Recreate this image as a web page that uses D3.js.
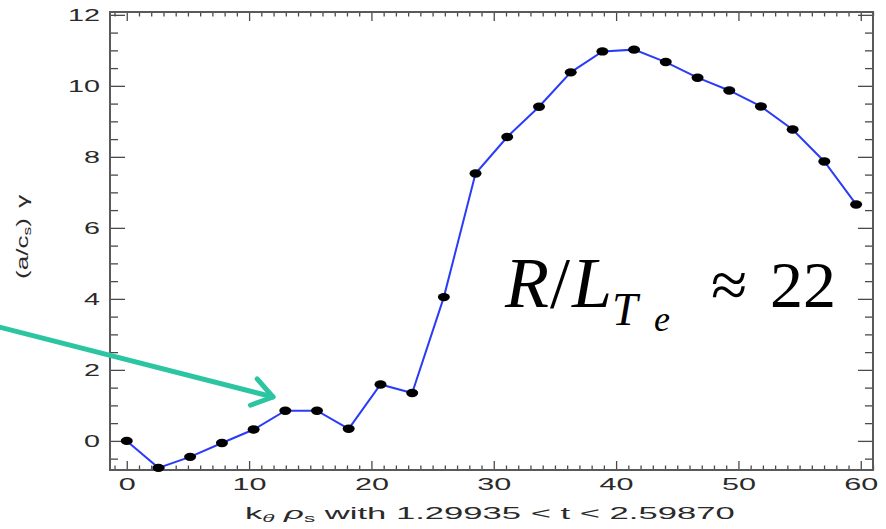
<!DOCTYPE html>
<html>
<head>
<meta charset="utf-8">
<script src="https://cdn.jsdelivr.net/npm/d3@7"></script>
<style>
  body { margin: 0; background: #fff; }
  svg { display: block; }
  .tick text { font-family: "Liberation Sans", Arial, sans-serif; fill: #2a2a2a; }
</style>
</head>
<body>
<svg id="chart" width="886" height="529"></svg>
<script>
// k_theta rho_s values and growth rates
const kVals = [0, 2.59, 5.18, 7.78, 10.37, 12.96, 15.55, 18.14, 20.74, 23.33, 25.92, 28.51,
               31.1, 33.7, 36.29, 38.88, 41.47, 44.06, 46.66, 49.25, 51.84, 54.43, 57.02, 59.62];
const gammaVals = [0, -0.76, -0.45, -0.06, 0.32, 0.85, 0.85, 0.34, 1.59, 1.35, 4.05, 7.53,
                   8.56, 9.41, 10.38, 10.97, 11.02, 10.67, 10.23, 9.87, 9.42, 8.77, 7.87, 6.66];
const xTicks = [0, 10, 20, 30, 40, 50, 60];
const yTicks = [0, 2, 4, 6, 8, 10, 12];
const xLabel = ["k", "θ", " ", "ρ", "s", " with 1.29935 < t < 2.59870"];

const width = 886, height = 529;
const margin = { top: 12, right: 13, bottom: 59, left: 110 };

const svg = d3.select("#chart");

const x = d3.scaleLinear([-1.37, 61.0], [margin.left, width - margin.right]);
const y = d3.scaleLinear([-0.82, 12.08], [height - margin.bottom, margin.top]);

const xMinor = d3.range(-1, 62, 1).filter(v => v % 10 !== 0);
const yMinor = d3.range(-0.5, 12.1, 0.5).filter(v => v % 2 !== 0);

const axisColor = "#4a4a4a";

function styleAxis(g) {
  g.select(".domain").remove();
  g.selectAll(".tick line").attr("stroke", axisColor).attr("stroke-width", 1.3);
}

// pick a serif face that is really installed
function pickSerif() {
  const ctx = document.createElement("canvas").getContext("2d");
  const probe = "R/L22 Te≈";
  ctx.font = "italic 72px monospace";
  const base = ctx.measureText(probe).width;
  const list = ["Liberation Serif", "DejaVu Serif", "Times New Roman", "Nimbus Roman",
                "FreeSerif", "Noto Serif", "Tinos", "Times"];
  for (const f of list) {
    ctx.font = `italic 72px "${f}", monospace`;
    if (Math.abs(ctx.measureText(probe).width - base) > 0.5) return `"${f}"`;
  }
  return "serif";
}
const serifFace = pickSerif();

// bottom axis, ticks pointing inward
svg.append("g")
  .attr("transform", `translate(0,${height - margin.bottom})`)
  .call(d3.axisBottom(x).tickValues(xTicks).tickSize(-9).tickPadding(8))
  .call(styleAxis)
  .call(g => g.selectAll(".tick text")
      .attr("font-size", 17)
      .attr("textLength", d => String(d).length * 17)
      .attr("lengthAdjust", "spacingAndGlyphs"));
svg.append("g")
  .attr("transform", `translate(0,${height - margin.bottom})`)
  .call(d3.axisBottom(x).tickValues(xMinor).tickSize(-4.5).tickFormat(""))
  .call(styleAxis);

// top axis
svg.append("g")
  .attr("transform", `translate(0,${margin.top})`)
  .call(d3.axisTop(x).tickValues(xTicks).tickSize(-9).tickFormat(""))
  .call(styleAxis);
svg.append("g")
  .attr("transform", `translate(0,${margin.top})`)
  .call(d3.axisTop(x).tickValues(xMinor).tickSize(-4.5).tickFormat(""))
  .call(styleAxis);

// left axis
svg.append("g")
  .attr("transform", `translate(${margin.left},0)`)
  .call(d3.axisLeft(y).tickValues(yTicks).tickSize(-15).tickPadding(10))
  .call(styleAxis)
  .call(g => g.selectAll(".tick text")
      .attr("font-size", 17)
      .attr("textLength", d => String(d).length * 16)
      .attr("lengthAdjust", "spacingAndGlyphs"));
svg.append("g")
  .attr("transform", `translate(${margin.left},0)`)
  .call(d3.axisLeft(y).tickValues(yMinor).tickSize(-8).tickFormat(""))
  .call(styleAxis);

// right axis
svg.append("g")
  .attr("transform", `translate(${width - margin.right},0)`)
  .call(d3.axisRight(y).tickValues(yTicks).tickSize(-15).tickFormat(""))
  .call(styleAxis);
svg.append("g")
  .attr("transform", `translate(${width - margin.right},0)`)
  .call(d3.axisRight(y).tickValues(yMinor).tickSize(-8).tickFormat(""))
  .call(styleAxis);

// frame
svg.append("rect")
  .attr("x", margin.left).attr("y", margin.top)
  .attr("width", width - margin.left - margin.right)
  .attr("height", height - margin.top - margin.bottom)
  .attr("fill", "none")
  .attr("stroke", "#5a5a5a")
  .attr("stroke-width", 2);

// series
const line = d3.line().x((d, i) => x(kVals[i])).y(d => y(d));
svg.append("path")
  .datum(gammaVals)
  .attr("fill", "none")
  .attr("stroke", "#2b3cf6")
  .attr("stroke-width", 2)
  .attr("d", line);

svg.append("g")
  .selectAll("ellipse")
  .data(gammaVals)
  .join("ellipse")
    .attr("cx", (d, i) => x(kVals[i]))
    .attr("cy", d => y(d))
    .attr("rx", 6)
    .attr("ry", 4.2)
    .attr("fill", "#000");

// y axis title, stretched to the reference's length
const yTitle = svg.append("text")
  .style("font-family", "'Liberation Sans', Arial, sans-serif")
  .attr("font-size", 15)
  .attr("fill", "#2a2a2a");
yTitle.append("tspan").text("(a/c");
yTitle.append("tspan").attr("font-size", 10).attr("dy", 3).text("s");
yTitle.append("tspan").attr("dy", -3).text(")");
yTitle.append("tspan").attr("dx", 6).text("γ");
const yw = yTitle.node().getComputedTextLength();
yTitle.attr("transform", `translate(28,279) rotate(-90) scale(${74 / yw},1.15)`);

// x axis title
const xTitle = svg.append("text")
  .style("font-family", "'Liberation Sans', Arial, sans-serif")
  .attr("font-size", 17)
  .attr("fill", "#2a2a2a");
xTitle.append("tspan").text(xLabel[0]);
xTitle.append("tspan").attr("font-size", 11).attr("font-style", "italic").attr("dy", 3).text(xLabel[1]);
xTitle.append("tspan").attr("dy", -3).text(xLabel[2]);
xTitle.append("tspan").attr("font-style", "italic").text(xLabel[3]);
xTitle.append("tspan").attr("font-size", 11).attr("dy", 3).text(xLabel[4]);
xTitle.append("tspan").attr("dy", -3).text(xLabel[5]);
const xw = xTitle.node().getComputedTextLength();
xTitle.attr("transform", `translate(245,519) scale(${490 / xw},1)`);

// annotation R/L_Te ≈ 22, one text element made of placed tspans
const ann = svg.append("text")
  .style("font-family", `${serifFace}, serif`)
  .attr("fill", "#000");
function piece(txt, px, py, size, italic) {
  ann.append("tspan")
    .style("font-style", italic ? "italic" : "normal")
    .attr("x", px).attr("y", py)
    .attr("font-size", size)
    .text(txt);
}
piece("R", 505, 307, 72, true);
piece("/", 550, 307, 72, false);
piece("L", 572, 307, 72, true);
piece("T", 612, 325, 46, true);
piece("e", 654, 331, 36, true);
piece("≈", 711, 307, 66, false);
piece("22", 770, 307, 66, false);

// green arrow
const arrowColor = "#2cc5a2";
const ax0 = -5, ay0 = 326, ax1 = 273, ay1 = 397;
const ang = Math.atan2(ay1 - ay0, ax1 - ax0);
const headLen = 24, spread = 0.6;
const arrow = svg.append("g")
  .attr("fill", "none")
  .attr("stroke", arrowColor)
  .attr("stroke-width", 5)
  .attr("stroke-linecap", "round")
  .attr("stroke-linejoin", "round");
arrow.append("path").attr("d", `M${ax0},${ay0}L${ax1},${ay1}`);
arrow.append("path").attr("d",
  `M${ax1 - headLen * Math.cos(ang - spread)},${ay1 - headLen * Math.sin(ang - spread)}` +
  `L${ax1},${ay1}` +
  `L${ax1 - headLen * Math.cos(ang + spread)},${ay1 - headLen * Math.sin(ang + spread)}`);
</script>
</body>
</html>
